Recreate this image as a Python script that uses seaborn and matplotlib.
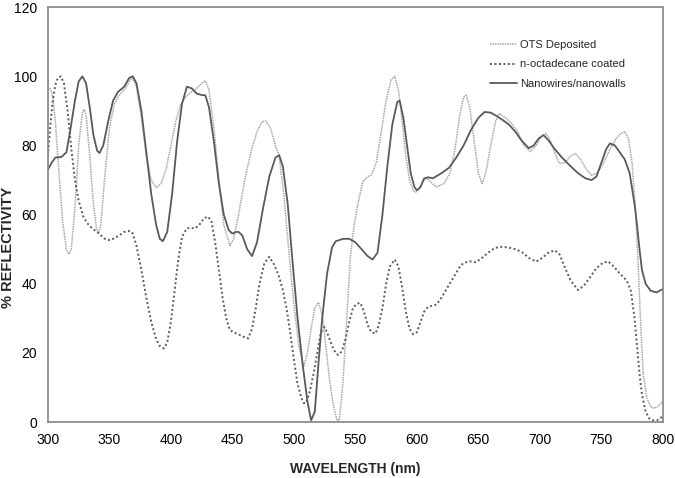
import pandas as pd
import matplotlib
matplotlib.use("Agg")
import matplotlib.pyplot as plt
import seaborn as sns

# OTS Deposited (light grey dotted)
ots_x = [300, 302, 304, 306, 309, 312, 315, 317, 319, 322, 325, 328, 329.5, 331, 334, 337, 339.5, 341,
         343, 346, 350, 354, 358, 363, 366, 369, 372, 376, 380, 384, 388, 392, 396, 400, 404, 408, 412,
         416.8, 421, 425, 428, 431, 435, 439, 443, 448, 451, 455, 460, 465, 470, 474, 477, 481, 485, 488,
         492, 496, 500, 504, 508, 511, 514, 517, 520, 523, 526, 529, 532, 535, 537, 540, 543, 546, 549,
         552, 556, 560, 563, 567, 571, 575, 579, 582, 585, 588, 591, 594, 597, 599, 602, 605, 608, 611,
         616, 622, 627, 631, 635, 638, 640, 643, 647, 650, 653, 656, 660, 664, 667, 672, 677, 682, 687,
         692, 697, 701, 705, 709, 713, 716, 720, 725, 729, 733, 738, 742, 747, 752, 757, 762, 766, 769,
         772, 775, 778, 780, 782, 784, 787, 790, 793, 796, 800]
ots_y = [96, 96.5, 94, 87, 72, 58, 50, 48.5, 50, 62, 80, 89.5, 90.4, 89, 77, 63, 56, 54.6,
         57, 70, 85, 92, 94.5, 96.5, 98.5, 99.5, 97, 88, 77, 70, 67.8, 69, 73, 80, 87, 92, 94,
         95.5, 96.5, 98, 98.7, 96, 85, 70, 57, 51, 53, 60, 70, 78, 84, 86.8, 87.1, 85, 80, 77,
         65, 49, 34, 22, 16, 20, 27, 33, 34.6, 31, 22, 12, 5, 0.5, 0.5, 12, 30, 48, 57,
         63, 69.5, 71, 71.5, 75, 84, 93, 99, 100, 96, 87, 77, 70, 67, 66.5, 67.5, 70, 70.5, 69.5,
         68, 69, 72, 79, 89, 94, 94.6, 91, 80, 72, 69, 72, 80, 87, 89.3, 88, 86.4, 84, 80,
         78.2, 80, 82.5, 83.5, 81, 77, 74.8, 75, 77, 77.7, 76, 73, 71.4, 72, 75, 79, 82, 83.5, 84,
         82, 75, 60, 45, 28, 14, 7, 4.5, 4, 4.5, 6]

# n-octadecane coated (dark dotted)
oct_x = [300, 302, 304, 306, 308, 310.5, 313, 316, 319, 322, 325, 328.7, 332, 336, 340, 343, 347, 350.4,
         354, 358, 362, 366.7, 369, 372, 376, 380, 384, 388, 391, 394.3, 397, 400, 403, 406, 409, 412.8,
         416, 419.5, 423, 427, 430.3, 433, 436, 439, 442, 445, 448, 452, 456, 460, 462.8, 466, 469, 472,
         476, 480, 484, 488, 491, 494, 497, 500, 503, 506, 508, 510, 513, 516, 519, 522, 525, 528, 531,
         534, 536, 539, 542, 545, 548, 551, 554, 557, 560, 563, 566.4, 569, 572, 575, 578, 582, 585, 588,
         591, 594, 597, 600, 603, 606, 609, 613, 616, 620, 625, 630, 635, 638, 643, 648, 653, 658, 663,
         667.5, 672, 677, 681, 686, 691, 697, 702, 707, 712, 716, 720, 725, 731, 736, 741, 746, 751,
         755.5, 760, 765, 770.5, 774, 777, 779, 781, 783, 786, 789, 792, 795, 798, 800]
oct_y = [77, 86, 93, 97.5, 99.5, 100, 98, 90, 79, 70, 64, 59.5, 57.5, 56, 55, 54, 52.8, 52.6,
         53.2, 54, 55, 55.3, 54.5, 51, 44, 36, 29, 24, 22, 21.3, 23, 29, 38, 47, 53.5, 56,
         56.2, 56, 57, 59, 59.4, 58, 52, 44, 36, 30, 26.6, 25.8, 25.2, 24.5, 24.2, 27, 33, 40,
         46, 47.8, 45.5, 42, 38.2, 33, 26, 18, 11, 7, 5.5, 5.5, 9, 14, 20, 26, 27.5, 25, 22,
         20, 19.4, 20.5, 24, 29, 33, 34.2, 34.5, 32, 28, 26, 25.6, 28, 33, 40, 45, 47, 45, 39,
         32, 27, 25.4, 26, 29, 32, 33.3, 33.7, 34, 36, 39, 42, 45, 46, 46.5, 46.2, 47.5, 49, 50.3,
         50.7, 50.6, 50.3, 49.9, 49, 47.5, 46.4, 47.5, 49, 49.7, 48.5, 45, 41, 38.2, 39.5, 42, 44.5, 46,
         46.5, 45, 43, 41, 38, 30, 22, 14, 8, 3, 1, 0.5, 0.5, 1, 2]

# Nanowires/nanowalls (solid)
nw_x = [300, 303, 306, 311, 315, 318, 322, 325, 328, 331, 334, 337, 340, 342, 345, 349, 353, 357, 362,
        366, 369, 372, 376, 380, 384, 388, 391, 393.5, 397, 401, 405, 409, 413, 417, 421, 425, 428, 431,
        435, 439, 443, 447, 450, 453, 455, 458, 462, 466, 470, 475, 480, 485, 488, 491, 495, 499, 503,
        507, 511, 514, 517, 520, 523, 527, 531, 534, 540, 545, 550, 555, 560, 564, 568, 572, 576, 580,
        584, 586, 589, 592, 595, 598, 600, 603, 606, 609, 613, 620, 626, 632, 638, 644, 650, 655, 660,
        665, 670, 675, 680, 685, 691, 695, 699, 703, 707, 712, 718, 725, 731, 737, 742, 746, 750, 754,
        757, 761, 765, 769, 773, 777, 779, 781, 783, 786, 790, 795, 800]
nw_y = [73, 75, 76.5, 76.7, 78, 84, 93, 98.5, 100, 98, 91, 83, 78.5, 77.8, 80, 87, 93, 95.5, 97,
        99.5, 100, 98, 90, 78, 66, 57, 53, 52.3, 55, 66, 81, 92, 97, 96.5, 95, 94.6, 94.5, 91,
        81, 69, 60, 55.5, 54.5, 55, 55, 54, 50, 48, 52, 62, 71, 76.5, 77.2, 74, 63, 46, 30,
        17, 6, 0.5, 3, 17, 30, 43, 50.5, 52.3, 53, 53, 52, 50, 48, 47, 49, 60, 74, 86,
        92.5, 93, 88, 80, 72, 68, 67, 68, 70.5, 70.8, 70.5, 72, 73.5, 76.5, 80, 84.5, 88, 89.7, 89.5,
        88.5, 87.3, 86, 84, 81.5, 79.2, 80, 82, 83, 81.5, 79, 76.5, 74, 72, 70.5, 70, 71, 75, 79,
        80.6, 80, 78, 76, 72, 63, 57, 50, 44, 40, 38, 37.5, 38.5]

x_ticks = [300, 350, 400, 450, 500, 550, 600, 650, 700, 750, 800]
y_ticks = [0, 20, 40, 60, 80, 100, 120]

sns.set_style("white")
plt.rcParams['font.family'] = ['Liberation Sans', 'DejaVu Sans']

fig = plt.figure(figsize=(6.75, 4.78), dpi=100)
ax = fig.add_axes([0.071, 0.117, 0.911, 0.868])

sns.lineplot(x=ots_x, y=ots_y, ax=ax, sort=False, color='#a6a6a6', linewidth=1.1,
             linestyle=(0, (1, 0.6)), label='OTS Deposited')
sns.lineplot(x=oct_x, y=oct_y, ax=ax, sort=False, color='#5a5a5a', linewidth=1.4,
             linestyle=(0, (1, 1.3)), label='n-octadecane coated')
sns.lineplot(x=nw_x, y=nw_y, ax=ax, sort=False, color='#5a5a5a', linewidth=1.3,
             label='Nanowires/nanowalls')

ax.set_xlim(300, 800)
ax.set_ylim(0, 120)
ax.set_xticks(x_ticks)
ax.set_yticks(y_ticks)
ax.tick_params(axis='both', length=0, labelsize=10, colors='black')
ax.tick_params(axis='x', pad=8)
ax.tick_params(axis='y', pad=8)

for s in ax.spines.values():
    s.set_color('#8c8c8c')
    s.set_linewidth(1.3)

ax.set_xlabel('WAVELENGTH (nm)', fontsize=10, fontweight='bold', labelpad=11)
ax.set_ylabel('% REFLECTIVITY', fontsize=10.5, fontweight='bold')
ax.yaxis.set_label_coords(-0.054, 0.42)

leg = ax.legend(loc='upper right', bbox_to_anchor=(0.956, 0.945), frameon=False, fontsize=8,
                handlelength=2.4, handletextpad=0.3, labelspacing=0.85)

fig.savefig('out.png', dpi=100)
